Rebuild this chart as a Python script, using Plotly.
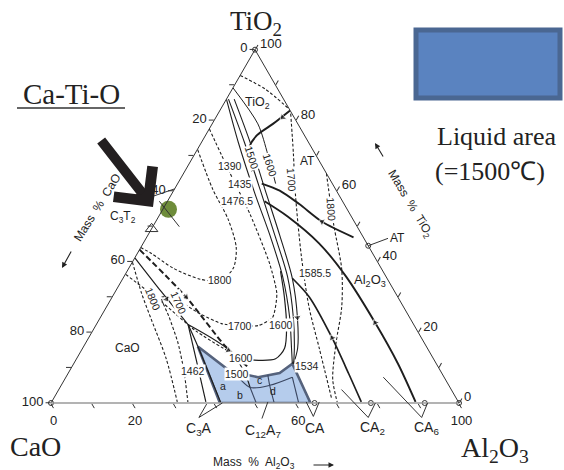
import math
import plotly.graph_objects as go

W, H = 564, 470

# ---------------- data (mass %: Al2O3, TiO2; CaO = 100 - Al2O3 - TiO2) ----------------
tio2_bnd_al = [17.2, 14.9, 12.6, 12.4, 13.9, 16.5]
tio2_bnd_ti = [82.8, 79.0, 75.8, 72.3, 68.8, 65.6]

at_bnd_al = [20.6, 26.0, 32.7, 40.8, 50.7]
at_bnd_ti = [62.1, 60.1, 56.3, 51.3, 46.9]

al2o3_bnd1_al = [23.8, 31.6, 43.1, 54.3, 68.1, 79.5, 89.2]
al2o3_bnd1_ti = [57.1, 52.8, 45.2, 35.9, 22.7, 11.1, 0.3]

al2o3_bnd2_al = [41.5, 48.3, 59.7, 68.9, 75.9]
al2o3_bnd2_ti = [35.3, 30.0, 18.4, 8.2, 0.3]

bundle_a_al = [0.0, 9.0, 20.4, 29.9, 38.8, 46.4, 51.2, 53.6]
bundle_a_ti = [86.0, 73.8, 59.2, 47.5, 35.9, 24.2, 15.5, 11.1]
bundle_b_al = [0.5, 10.5, 20.9, 31.1, 40.0, 47.3, 51.9, 53.9]
bundle_b_ti = [86.0, 73.8, 60.6, 47.5, 35.9, 24.2, 15.5, 11.1]
bundle_c_al = [1.9, 11.9, 22.1, 32.3, 41.5, 48.3, 52.7, 53.9]
bundle_c_ti = [86.0, 73.8, 60.6, 47.5, 35.3, 24.2, 15.5, 11.1]

iso1600_top_al = [0.0, 11.2, 18.0, 24.0]
iso1600_top_ti = [89.2, 79.0, 70.3, 62.1]

iso_apex_al = [0.0, 8.0, 16.9]
iso_apex_ti = [92.7, 88.9, 83.1]

iso1700_r_al = [17.8, 24.0, 30.3, 40.5, 49.7, 58.0, 68.4]
iso1700_r_ti = [81.9, 70.8, 59.2, 41.7, 27.1, 15.5, 0.9]

iso1800_r_al = [35.0, 44.1, 52.3, 57.7, 61.4, 65.7, 70.0]
iso1800_r_ti = [65.0, 50.4, 37.9, 27.1, 16.9, 6.7, 0.3]

iso1800_loop_al = [0.1, 9.3, 17.5, 23.4, 25.6, 24.2, 19.2, 10.8, 3.5, 0.0]
iso1800_loop_ti = [71.7, 60.6, 51.9, 44.0, 38.2, 34.7, 35.0, 38.2, 42.3, 44.0]
iso1800_cao_al = [0.0, 6.8, 12.8, 22.0, 30.8]
iso1800_cao_ti = [39.9, 30.9, 23.6, 12.5, 0.3]

iso1700_loop_al = [0.0, 11.4, 22.1, 33.9, 39.9, 42.2, 39.8, 35.4, 30.8, 24.2, 16.1, 12.1, 16.9, 22.7, 28.1, 33.4]
iso1700_loop_ti = [77.6, 65.0, 53.4, 39.4, 30.9, 24.2, 21.9, 21.9, 22.4, 25.1, 29.2, 30.0, 24.2, 16.9, 9.0, 0.3]

iso1600_dash_al = [0.1, 12.8, 25.3, 37.4]
iso1600_dash_ti = [36.4, 28.6, 20.4, 14.0]
iso1600_solid_al = [42.7, 48.8, 49.5, 47.1, 42.2, 37.6]
iso1600_solid_ti = [12.2, 12.5, 15.5, 21.3, 30.0, 37.3]

bl1_al = [0.0, 11.3, 22.5]
bl1_ti = [41.1, 31.5, 22.2]
bl2_al = [22.5, 29.3, 37.8]
bl2_ti = [22.2, 12.5, 0.3]
bl3_al = [22.5, 28.0, 41.4]
bl3_ti = [22.2, 16.0, 0.3]
bl4_al = [22.5, 36.7, 43.5, 46.6]
bl4_ti = [22.2, 14.6, 8.2, 4.4]
bl5_al = [0.0, 18.1, 34.8, 43.2]
bl5_ti = [43.4, 30.0, 16.0, 10.2]

liquid_al = [28.0, 41.4, 63.6, 53.6, 51.8, 47.1, 39.4, 28.0]
liquid_ti = [16.0, 0.0, 0.0, 11.1, 8.5, 7.3, 9.0, 16.0]

inner1_al = [40.2, 46.6, 51.1, 55.5]
inner1_ti = [9.0, 4.4, 5.0, 7.3]
inner2_al = [46.6, 50.3]
inner2_ti = [4.4, 0.0]
inner3_al = [49.2, 51.1, 54.7]
inner3_ti = [7.9, 5.0, 0.0]
inner4_al = [55.5, 60.7]
inner4_ti = [7.3, 0.0]

# direction arrows on boundary curves: tail -> head (Al2O3, TiO2)
arrow_tail_al = [17.2, 46.0, 72.2, 63.8, 45.6, 11.3, 31.7, 14.3]
arrow_tail_ti = [82.8, 49.0, 18.4, 14.0, 28.6, 31.5, 17.2, 32.7]
arrow_head_al = [16.4, 40.8, 68.1, 59.7, 48.3, 13.6, 36.0, 18.1]
arrow_head_ti = [80.8, 51.3, 22.7, 18.4, 24.2, 29.4, 14.9, 30.0]

compound_pt_al = [0.0, 64.6, 78.4, 91.6, 100.0, 0.0, 55.5]
compound_pt_ti = [0.0, 0.0, 0.0, 0.0, 0.0, 100.0, 44.5]

c3t2_al = [0.0]
c3t2_ti = [49.3]

ct_dot_al = [1.4]
ct_dot_ti = [54.8]

# labels (horizontal): text, Al2O3, TiO2, size
lab_text = ['TiO<sub>2</sub>', 'AT', 'AT', 'Al<sub>2</sub>O<sub>3</sub>', 'CaO', 'C<sub>3</sub>T<sub>2</sub>', 'CT',
            '1390', '1435', '1476.5', '1585.5', '1534', '1462', '1600', '1600', '1700', '1800', '1500',
            'a', 'b', 'c', 'd',
            'C<sub>3</sub>A', 'C<sub>12</sub>A<sub>7</sub>', 'CA', 'CA<sub>2</sub>', 'CA<sub>6</sub>']
lab_al = [8.3, 28.6, 61.7, 60.9, 10.9, -8.6, -8.0,
          10.4, 15.3, 17.1, 46.4, 57.6, 30.3, 45.2, 40.2, 35.4, 24.0, 41.6,
          39.9, 45.2, 48.0, 52.6,
          39.9, 55.9, 68.2, 82.2, 95.5]
lab_ti = [84.8, 68.5, 46.6, 34.7, 15.5, 52.5, 57.6,
          67.1, 62.1, 57.1, 36.7, 10.5, 9.0, 22.2, 12.8, 21.9, 34.7, 8.2,
          4.7, 2.3, 6.4, 3.5,
          -7.3, -7.9, -7.0, -7.0, -7.0]
lab_size = [12.5, 12, 12, 13, 12, 12, 12,
            10.5, 10.5, 10.5, 10.5, 10.5, 10.5, 10.5, 10.5, 10.5, 10.5, 10.5,
            10.5, 10.5, 10.5, 10.5,
            14, 14, 14, 14, 14]
lab_bg = [False] * 7 + [True] * 11 + [False] * 4 + [False] * 5

# rotated isotherm labels
rot_text = ['1500', '1600', '1700', '1800', '1800', '1700']
rot_al = [14.6, 20.0, 27.4, 41.2, 7.5, 16.4]
rot_ti = [69.4, 67.3, 63.0, 54.8, 29.4, 24.2]
rot_angle = [72, 72, 86, 86, 68, 66]

# label leader lines: pairs of (Al2O3, TiO2)
leader_from_al = [38.3, 38.3, 53.9, 66.2, 66.2, 79.8, 79.8, 92.9, 92.9, -4.5, 55.5, -2.0]
leader_from_ti = [-4.1, -4.1, -4.4, -3.8, -3.8, -4.1, -4.1, -4.1, -4.1, 58.4, 44.5, 57.1]
leader_to_al = [38.3, 42.0, 53.0, 62.4, 65.6, 69.3, 79.5, 77.8, 92.3, 0.0, 59.3, 6.5]
leader_to_ti = [-0.3, 0.0, 0.3, 0.3, 0.3, 3.8, 0.0, 7.3, 0.0, 60.6, 46.6, 49.9]

ticks10 = list(range(0, 101, 10))
a_ticktext = [str(100 - v) if v % 20 == 0 else ' ' for v in ticks10]
b_named = {100: '0', 80: '20', 40: '60', 0: '100'}
b_ticktext = [b_named.get(v, ' ') for v in ticks10]
c_ticktext = [str(100 - v) if v % 20 == 0 else ' ' for v in ticks10]

# ---------------- geometry of the ternary subplot ----------------
X0, X1, YB = 51.0, 459.0, 403.0
YT = YB - (X1 - X0) * math.sqrt(3) / 2


def tp(al, ti):
    px = X0 + (X1 - X0) * (al / 100.0 + ti / 200.0)
    py = YB - (YB - YT) * ti / 100.0
    return px / W, 1 - py / H


def cao(al, ti):
    return [100 - x - y for x, y in zip(al, ti)]


SANS = 'Liberation Sans, Arial, sans-serif'
SERIF = 'Liberation Serif, Times New Roman, serif'

fig = go.Figure()


def add_line(al, ti, color='#1e1e1e', width=1.1, dash='solid', smooth=0.8):
    fig.add_trace(go.Scatterternary(
        a=ti, b=cao(al, ti), c=al, mode='lines',
        line=dict(color=color, width=width, dash=dash, shape='spline', smoothing=smooth),
        hoverinfo='skip', showlegend=False))


# liquid area
fig.add_trace(go.Scatterternary(
    a=liquid_ti, b=cao(liquid_al, liquid_ti), c=liquid_al,
    mode='lines', fill='toself', fillcolor='rgba(150,182,228,0.7)',
    line=dict(color='#55627c', width=2.6), hoverinfo='skip', showlegend=False))

DOT = '3px,2px'
add_line(iso_apex_al, iso_apex_ti, dash=DOT, width=1.1)
add_line(iso1700_r_al, iso1700_r_ti, dash=DOT, width=1.1)
add_line(iso1800_r_al, iso1800_r_ti, dash=DOT, width=1.1)
add_line(iso1800_loop_al, iso1800_loop_ti, dash=DOT, width=1.1)
add_line(iso1800_cao_al, iso1800_cao_ti, dash=DOT, width=1.1)
add_line(iso1700_loop_al, iso1700_loop_ti, dash=DOT, width=1.1, smooth=0.6)
add_line(iso1600_dash_al, iso1600_dash_ti, dash=DOT, width=1.1)
add_line(iso1600_solid_al, iso1600_solid_ti, width=1.2)
add_line(iso1600_top_al, iso1600_top_ti, width=1.0)

for al, ti in [(bundle_a_al, bundle_a_ti), (bundle_b_al, bundle_b_ti), (bundle_c_al, bundle_c_ti)]:
    add_line(al, ti, width=1.1)

add_line(tio2_bnd_al, tio2_bnd_ti, width=2.0)
add_line(at_bnd_al, at_bnd_ti, width=1.9)
add_line(al2o3_bnd1_al, al2o3_bnd1_ti, width=1.9)
add_line(al2o3_bnd2_al, al2o3_bnd2_ti, width=1.7)

add_line(bl1_al, bl1_ti, width=1.2)
add_line(bl2_al, bl2_ti, width=1.2)
add_line(bl3_al, bl3_ti, width=1.2)
add_line(bl4_al, bl4_ti, width=1.2)
add_line(bl5_al, bl5_ti, width=2.0, dash='6px,3px')

for al, ti in [(inner1_al, inner1_ti), (inner2_al, inner2_ti), (inner3_al, inner3_ti), (inner4_al, inner4_ti)]:
    add_line(al, ti, color='#3a4660', width=1.1)

# small direction arrowheads on the boundary curves
for ta, tt, ha, ht in zip(arrow_tail_al, arrow_tail_ti, arrow_head_al, arrow_head_ti):
    al, ti = [ta, ha], [tt, ht]
    try:
        mk = dict(symbol='triangle-up', size=[0, 7], color='#1e1e1e', angleref='previous')
        tr = go.Scatterternary(a=ti, b=cao(al, ti), c=al, mode='markers', marker=mk,
                               cliponaxis=False, hoverinfo='skip', showlegend=False)
    except Exception:
        tr = None
    if tr is not None:
        fig.add_trace(tr)

# compound points
fig.add_trace(go.Scatterternary(
    a=compound_pt_ti, b=cao(compound_pt_al, compound_pt_ti), c=compound_pt_al,
    mode='markers', marker=dict(symbol='circle-open', size=5, color='#333', line=dict(width=1)),
    cliponaxis=False, hoverinfo='skip', showlegend=False))
fig.add_trace(go.Scatterternary(
    a=c3t2_ti, b=cao(c3t2_al, c3t2_ti), c=c3t2_al,
    mode='markers', marker=dict(symbol='triangle-up-open', size=11, color='#333', line=dict(width=1)),
    cliponaxis=False, hoverinfo='skip', showlegend=False))
fig.add_trace(go.Scatterternary(
    a=ct_dot_ti, b=cao(ct_dot_al, ct_dot_ti), c=ct_dot_al,
    mode='markers', marker=dict(symbol='circle', size=17, color='#6e8c3a'),
    cliponaxis=False, hoverinfo='skip', showlegend=False))

annotations = []
for t, al, ti, s, bg in zip(lab_text, lab_al, lab_ti, lab_size, lab_bg):
    x, y = tp(al, ti)
    d = dict(text=t, x=x, y=y, xref='paper', yref='paper', showarrow=False,
             xanchor='center', yanchor='middle', font=dict(family=SANS, size=s, color='#1e1e1e'))
    if bg:
        d.update(bgcolor='white', borderpad=0)
    annotations.append(d)
for t, al, ti, ang in zip(rot_text, rot_al, rot_ti, rot_angle):
    x, y = tp(al, ti)
    annotations.append(dict(text=t, x=x, y=y, xref='paper', yref='paper', showarrow=False,
                            textangle=ang, bgcolor='white', borderpad=0,
                            font=dict(family=SANS, size=10.5, color='#1e1e1e')))

shapes = []
for fa, ft, ta, tt in zip(leader_from_al, leader_from_ti, leader_to_al, leader_to_ti):
    x0, y0 = tp(fa, ft)
    x1, y1 = tp(ta, tt)
    shapes.append(dict(type='line', xref='paper', yref='paper', x0=x0, y0=y0, x1=x1, y1=y1,
                       line=dict(color='#333', width=1)))

# legend swatch for liquid area
shapes.append(dict(type='rect', xref='paper', yref='paper', x0=416 / W, x1=560 / W,
                   y0=1 - 98 / H, y1=1 - 30 / H, fillcolor='#5a83c0',
                   line=dict(color='#4a6792', width=5)))
# underline of title
shapes.append(dict(type='line', xref='paper', yref='paper', x0=17 / W, x1=125 / W,
                   y0=1 - 108 / H, y1=1 - 108 / H, line=dict(color='#333', width=1.6)))

annotations += [
    dict(text='TiO<sub>2</sub>', x=256 / W, y=1 - 23 / H, font=dict(family=SERIF, size=27, color='#222')),
    dict(text='CaO', x=35 / W, y=1 - 446 / H, font=dict(family=SERIF, size=28, color='#222')),
    dict(text='Al<sub>2</sub>O<sub>3</sub>', x=495 / W, y=1 - 449 / H, font=dict(family=SERIF, size=28, color='#222')),
    dict(text='Ca-Ti-O', x=71 / W, y=1 - 94 / H, font=dict(family=SERIF, size=29, color='#222')),
    dict(text='Liquid area', x=497 / W, y=1 - 136 / H, font=dict(family=SERIF, size=26, color='#222')),
    dict(text='(=1500\u2103)', x=490 / W, y=1 - 171 / H, font=dict(family=SERIF, size=26, color='#222')),
    dict(text='Mass  %  Al<sub>2</sub>O<sub>3</sub>', x=254 / W, y=1 - 463 / H, font=dict(family=SANS, size=12, color='#222')),
    dict(text='Mass  %  CaO', x=97 / W, y=1 - 208 / H, textangle=-58, font=dict(family=SANS, size=12, color='#222')),
    dict(text='Mass  %  TiO<sub>2</sub>', x=410 / W, y=1 - 204 / H, textangle=59, font=dict(family=SANS, size=12, color='#222')),
]
for a in annotations[-9:]:
    a.update(xref='paper', yref='paper', showarrow=False, xanchor='center', yanchor='middle')

# small axis-direction arrows and the big pointer arrow
annotations += [
    dict(text='', x=62 / W, y=1 - 268 / H, ax=10, ay=-18, xref='paper', yref='paper', showarrow=True,
         arrowhead=2, arrowsize=1, arrowwidth=1.1, arrowcolor='#222'),
    dict(text='', x=375 / W, y=1 - 143 / H, ax=9, ay=15, xref='paper', yref='paper', showarrow=True,
         arrowhead=2, arrowsize=1, arrowwidth=1.1, arrowcolor='#222'),
    dict(text='', x=334 / W, y=1 - 465 / H, ax=-22, ay=0, xref='paper', yref='paper', showarrow=True,
         arrowhead=2, arrowsize=1, arrowwidth=1.1, arrowcolor='#222'),
    dict(text='', x=153 / W, y=1 - 207 / H, ax=-53, ay=-68, xref='paper', yref='paper', showarrow=True,
         arrowhead=4, arrowsize=0.95, arrowwidth=10, arrowcolor='#231f20'),
]

axis_common = dict(tickvals=ticks10, ticks='outside', ticklen=5, tickcolor='#333', showgrid=False,
                   linecolor='#333', linewidth=1, tickfont=dict(family=SANS, size=13, color='#222'),
                   title=dict(text=''), min=0)

fig.update_layout(
    width=W, height=H, margin=dict(l=0, r=0, t=0, b=0),
    paper_bgcolor='white', plot_bgcolor='white', showlegend=False,
    ternary=dict(
        sum=100, bgcolor='white',
        domain=dict(x=[X0 / W, X1 / W], y=[1 - YB / H, 1 - YT / H]),
        aaxis=dict(axis_common, ticktext=a_ticktext),
        baxis=dict(axis_common, ticktext=b_ticktext, linecolor='#9a9a9a', linewidth=1.6),
        caxis=dict(axis_common, ticktext=c_ticktext),
    ),
    shapes=shapes, annotations=annotations,
)

fig.write_html('out.html', config={'displayModeBar': False},
               post_script="document.body.style.margin='0';document.body.style.overflow='hidden';")
